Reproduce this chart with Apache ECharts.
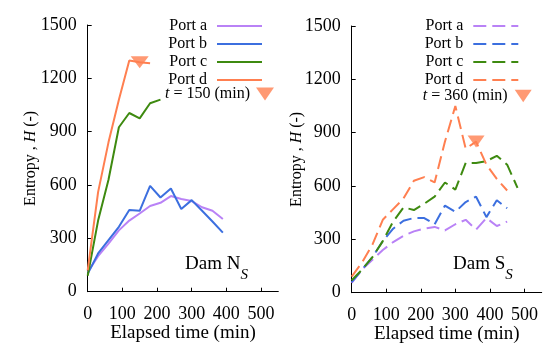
<!DOCTYPE html>
<html>
<head>
<meta charset="utf-8">
<script src="https://cdn.jsdelivr.net/npm/echarts@6/dist/echarts.min.js"></script>
<style>
html,body{margin:0;padding:0;background:#fff;}
#c{width:548px;height:343px;}
</style>
</head>
<body>
<div id="c"></div>
<script>
// ---- data ----
const timesN = [0,30,60,90,120,150,180,210,240,270,300,330,360,390];
const portA_N = [110,200,270,345,400,440,482,500,538,521,510,475,455,409];
const portB_N = [100,215,290,365,460,455,595,530,580,465,515,455,395,332];
const portC_N = [90,400,630,925,1005,975,1060,1080];
const portD_N = [120,560,840,1080,1300,1290,1285];
const markT_N = [150];
const markH_N = [1290];

const timesS = [0,30,60,90,120,150,180,210,240,270,300,330,360,390,420,450,480];
const portA_S = [55,130,185,240,285,320,345,360,370,350,385,410,355,420,375,400];
const portB_S = [60,130,200,290,360,405,420,420,385,490,455,510,540,425,520,475];
const portC_S = [70,130,200,290,400,480,465,500,540,620,580,730,730,740,770,720,590];
const portD_S = [90,170,270,410,470,530,630,650,620,850,1050,810,850,720,640,575];
const markT_S = [360];
const markH_S = [850];

const xTicks = [0,100,200,300,400,500];
const yTicks = [0,300,600,900,1200,1500];
const portNames = ['Port a','Port b','Port c','Port d'];
const colors = ['#b982f6','#3c6fdf','#3e8a10','#ff7f50'];

const FONT = 'Liberation Serif';
const tri = 'path://M0,0L18,0L9,13Z';

function pairs(ts, vs){ return vs.map((v,i)=>[ts[i], v]); }

const chart = echarts.init(document.getElementById('c'), null, {renderer:'canvas'});

function xAxis(gi){
  return {
    type:'value', gridIndex:gi, min:0, max:550,
    axisLine:{show:true, lineStyle:{color:'#000', width:1}},
    axisTick:{show:true, inside:true, length:4, customValues:xTicks, lineStyle:{color:'#000'}},
    axisLabel:{customValues:xTicks, formatter:v=>String(v), color:'#000', fontFamily:FONT, fontSize:18, margin:14},
    splitLine:{show:false},
    name:'Elapsed time (min)', nameLocation:'middle', nameGap:32, nameMoveOverlap:false,
    nameTextStyle:{color:'#000', fontFamily:FONT, fontSize:19}
  };
}
function yAxis(gi, gap){
  return {
    type:'value', gridIndex:gi, min:0, max:1500, interval:300,
    axisLine:{show:true, lineStyle:{color:'#000', width:1}},
    axisTick:{show:true, inside:true, length:4, customValues:yTicks, lineStyle:{color:'#000'}},
    axisLabel:{customValues:yTicks, formatter:v=>String(v), color:'#000', fontFamily:FONT, fontSize:18, margin:11},
    splitLine:{show:false},
    name:'{n|Entropy , }{i|H}{n| (-)}', nameLocation:'middle', nameGap:gap, nameMoveOverlap:false,
    nameTextStyle:{color:'#000', fontFamily:FONT, fontSize:16,
      rich:{n:{fontFamily:FONT, fontSize:16, color:'#000'}, i:{fontFamily:FONT, fontSize:16, fontStyle:'italic', color:'#000'}}}
  };
}

const series = [];
const nData = [portA_N, portB_N, portC_N, portD_N];
const sData = [portA_S, portB_S, portC_S, portD_S];
nData.forEach((d,i)=>{
  series.push({type:'line', name:portNames[i]+'|N', xAxisIndex:0, yAxisIndex:0,
    data:pairs(timesN, d), symbol:'none', color:colors[i],
    lineStyle:{color:colors[i], width:2}, z: 2 + i});
});
sData.forEach((d,i)=>{
  series.push({type:'line', name:portNames[i]+'|S', xAxisIndex:1, yAxisIndex:1,
    data:pairs(timesS, d), symbol:'none', color:colors[i],
    lineStyle:{color:colors[i], width:2, type:[13,6]}, z:2});
});
series.push({type:'scatter', name:'t|'+markT_N[0], xAxisIndex:0, yAxisIndex:0,
  data:pairs(markT_N, markH_N), symbol:tri, symbolSize:[18,12], color:'#ff7f50', z:5});
series.push({type:'scatter', name:'t|'+markT_S[0], xAxisIndex:1, yAxisIndex:1,
  data:pairs(markT_S, markH_S), symbol:tri, symbolSize:[17,12], color:'#ff7f50', z:5});

function legendFmt(name){
  const p = name.split('|');
  if (p[0] === 't') return '{i|t} = ' + p[1] + ' (min)';
  return p[0];
}
const legText = {color:'#000', fontFamily:FONT, fontSize:16, lineHeight:14,
  rich:{i:{fontFamily:FONT, fontSize:16, fontStyle:'italic', color:'#000'}}};

const legends = [
  {data:portNames.map(n=>n+'|N'), orient:'vertical', align:'right', right:285, top:18,
   itemWidth:45, itemHeight:14, itemGap:2, padding:0, formatter:legendFmt,
   itemStyle:{opacity:0},
   textStyle:Object.assign({padding:[0,5,0,0]}, legText), selectedMode:false},
  {data:[{name:'t|'+markT_N[0], icon:tri}], orient:'vertical', align:'right', right:274, top:86,
   itemWidth:18, itemHeight:13, padding:0, formatter:legendFmt,
   textStyle:Object.assign({padding:[0,1,0,0]}, legText), selectedMode:false},
  {data:portNames.map(n=>n+'|S'), orient:'vertical', align:'right', right:28.7, top:18,
   itemWidth:45, itemHeight:14, itemGap:2, padding:0, formatter:legendFmt,
   itemStyle:{opacity:0},
   textStyle:Object.assign({padding:[0,5,0,0]}, legText), selectedMode:false},
  {data:[{name:'t|'+markT_S[0], icon:tri}], orient:'vertical', align:'right', right:16.3, top:88,
   itemWidth:17, itemHeight:13, padding:0, formatter:legendFmt,
   textStyle:Object.assign({padding:[0,2,0,0]}, legText), selectedMode:false}
];

const damRich = {
  a:{fontFamily:FONT, fontSize:19, fontWeight:'normal', color:'#000', lineHeight:28, verticalAlign:'top'},
  s:{fontFamily:FONT, fontSize:15, fontWeight:'normal', fontStyle:'italic', color:'#000', lineHeight:15, verticalAlign:'bottom'}
};

chart.setOption({
  animation:false,
  backgroundColor:'#fff',
  grid:[
    {left:87.7, top:25, width:190.6, height:266.7, outerBoundsMode:'none', containLabel:false},
    {left:351.7, top:26, width:190, height:266.7, outerBoundsMode:'none', containLabel:false}
  ],
  xAxis:[xAxis(0), xAxis(1)],
  yAxis:[yAxis(0, 49), yAxis(1, 47)],
  legend:legends,
  title:[
    {text:'{a|Dam N}{s|S}', left:185, top:255, padding:0, textStyle:{fontWeight:'normal', rich:damRich}},
    {text:'{a|Dam S}{s|S}', left:453, top:255, padding:0, textStyle:{fontWeight:'normal', rich:damRich}}
  ],
  series:series
});
</script>
</body>
</html>
